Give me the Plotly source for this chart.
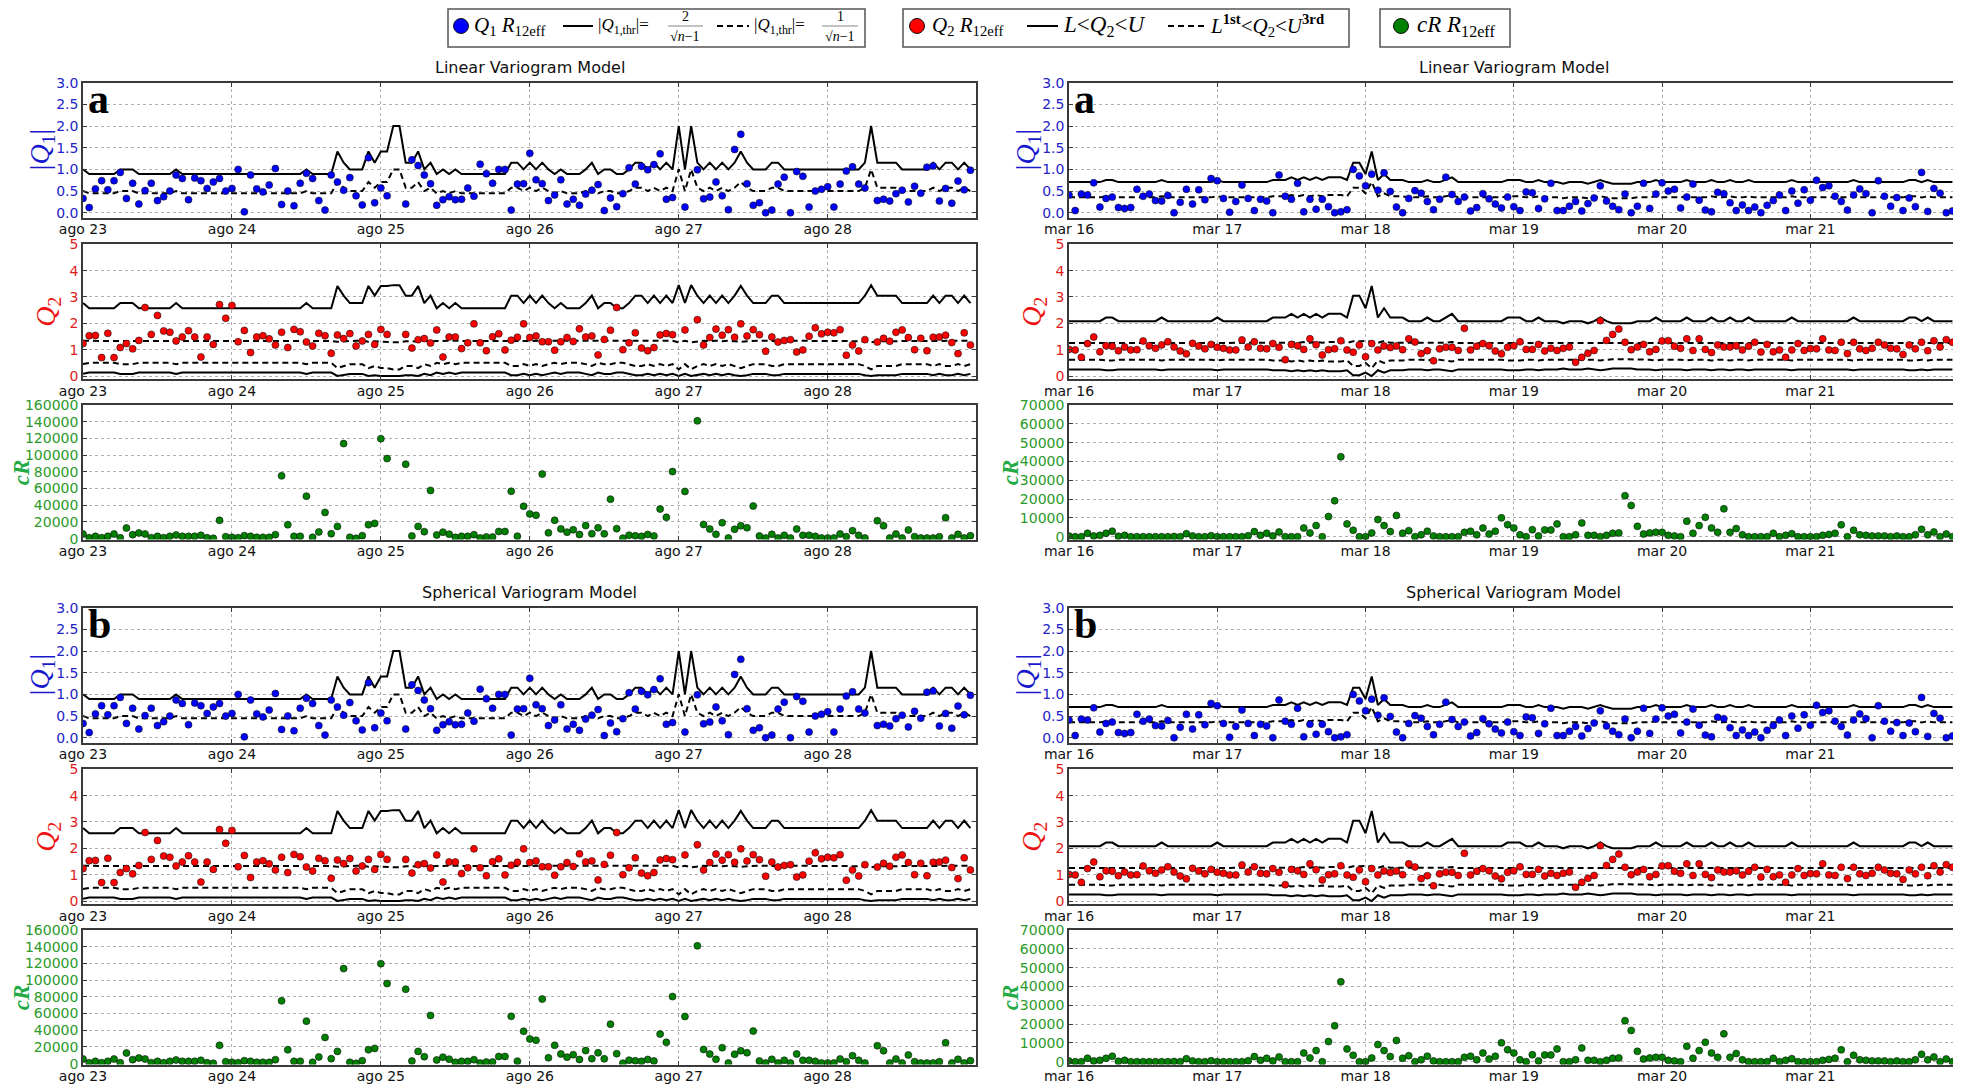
import pandas as pd
import plotly.graph_objects as go

# page body has an 8px default margin: figure is sized to fit the window exactly
MARGIN = 8
W, H = 1961 - MARGIN, 1086 - MARGIN

# ---------------- data ----------------
left_day_labels = ["ago 23", "ago 24", "ago 25", "ago 26", "ago 27", "ago 28"]
right_day_labels = ["mar 16", "mar 17", "mar 18", "mar 19", "mar 20", "mar 21"]
left_start = "2014-08-23"
right_start = "2015-03-16"
panel_titles = ["Linear Variogram Model", "Spherical Variogram Model"]
panel_letters = ["a", "b"]

# hourly |Q1| (R12eff), left period
left_q1 = [
    0.33, 0.12, 0.55, 0.74, 0.53, 0.74, 0.93, 0.33, 0.68, 0.20, 0.51, 0.68, 0.28, 0.37, 0.50, 0.87, 0.79, 0.30, 0.80, 0.74, 0.56, 0.71, 0.79, 0.50,
    0.56, 1.00, 0.02, 0.87, 0.55, 0.48, 0.64, 1.02, 0.19, 0.50, 0.16, 0.68, 0.91, 0.79, 0.28, 0.06, 0.87, 0.71, 0.52, 0.81, 0.39, 0.18, 1.27, 0.23,
    0.57, 0.39, None, None, 0.20, 1.22, 1.09, 0.87, 0.67, 0.17, 0.30, 0.37, 0.30, 0.31, 0.57, 0.38, 1.12, 0.90, 0.68, 1.00, 1.00, 0.06, 0.66, 0.67,
    1.37, 0.76, 0.67, 0.28, 0.41, 0.76, 0.20, 0.31, 0.17, 0.43, 0.52, 0.65, 0.05, 0.34, 0.14, 0.44, 1.04, 0.66, 1.07, 0.99, 1.11, 1.36, 0.31, 0.35,
    None, 0.13, None, 0.99, 0.32, 0.36, 0.71, 0.39, 0.07, 1.46, 1.81, 0.67, 0.17, 0.23, 0.00, 0.06, 0.66, 0.82, 0.00, 0.95, 0.84, 0.13, 0.50, 0.54,
    0.60, 0.13, 0.66, 0.96, 1.06, 0.66, 0.57, None, 0.28, 0.31, 0.27, 0.44, 0.52, 0.25, 0.61, 0.45, 1.05, 1.08, 0.27, 0.56, 0.22, 0.73, 0.53, 0.98,
]
left_q2 = [
    1.23, 1.53, 1.54, 0.70, 1.62, 0.70, 1.08, 1.23, 1.03, 1.35, 2.60, 1.58, 2.30, 1.71, 1.66, 1.33, 1.48, 1.72, 1.48, 0.72, 1.48, 1.20, 2.71, 2.19,
    2.68, 1.30, 1.73, 0.89, 1.48, 1.53, 1.41, 1.18, 1.66, 1.08, 1.77, 1.68, 1.29, 1.14, 1.62, 1.53, 0.86, 1.56, 1.42, 1.61, 1.14, 1.33, 1.58, 1.20,
    1.77, 1.58, None, None, 1.58, 1.06, 1.38, 1.42, 1.25, 1.75, 0.72, 1.48, 1.48, 1.04, 1.26, 1.98, 1.26, 0.96, 1.49, 1.60, 0.99, 1.36, 1.47, 1.98,
    1.46, 1.52, 1.30, 1.30, 0.98, 1.30, 1.46, 1.31, 1.79, 1.48, 1.52, 0.80, 1.39, 1.74, 2.60, 1.00, 1.26, 1.64, 1.06, 0.96, 1.08, 1.56, 1.61, 1.57,
    None, 1.75, None, 2.14, 1.18, 1.46, 1.78, 1.55, 1.76, 1.47, 1.98, 1.52, 1.76, 1.57, 0.94, 1.48, 1.29, 1.35, 1.38, 0.91, 0.99, 1.51, 1.83, 1.60,
    1.66, 1.64, 1.76, 0.79, 1.18, 0.95, 1.38, None, 1.29, 1.43, 1.32, 1.66, 1.75, 1.46, 1.00, 1.43, 0.96, 1.47, 1.48, 1.55, 1.27, 0.85, 1.64, 1.18,
]
left_cr = [
    5600, 1200, 2800, 1200, 2800, 5600, 1200, 12700, 4800, 6800, 5600, 1200, 2800, 1200, 2800, 4400, 2800, 2800, 2800, 4000, 1200, 400, 21900, 2400,
    1600, 1200, 3600, 2800, 1600, 1600, 1600, 4800, 75200, 16700, 2800, 2800, 50900, 1600, 8000, 31400, 6000, 14700, 113800, 1600, 400, 3600, 16700, 18300,
    119700, 95900, None, None, 89100, 3200, 14700, 8400, 57700, 4400, 7800, 5400, 1600, 2800, 2800, 4800, 800, 2000, 2000, 8600, 8600, 56700, 3000, 38800,
    29600, 28000, 77300, 7000, 22000, 11700, 7800, 10700, 5000, 15700, 6000, 13000, 5800, 47300, 12000, 600, 4200, 3400, 2800, 5000, 3200, 35400, 25500, 80300,
    None, 56500, None, 141000, 17000, 11500, 5200, 19100, 800, 11200, 15500, 13100, 39000, 3200, 800, 5200, 800, 4000, 800, 11600, 4000, 4000, 2800, 800,
    800, 800, 5600, 2400, 9600, 4000, 800, None, 21500, 15500, 800, 5600, 800, 10400, 2400, 800, 800, 800, 2400, 25100, 800, 5200, 800, 3600,
]
# number of contributing values per hour (sets the thresholds)
left_n = [
    5, 6, 6, 6, 6, 6, 5, 5, 5, 6, 6, 6, 6, 6, 6, 5, 6, 6, 6, 6, 6, 6, 6, 6,
    6, 6, 6, 6, 6, 6, 6, 6, 6, 6, 6, 6, 5, 6, 6, 6, 6, 3, 4, 5, 5, 5, 3, 4,
    3, 3, 2, 2, 4, 4, 3, 5, 4, 6, 5, 6, 5, 6, 6, 6, 6, 6, 6, 6, 6, 4, 4, 5,
    4, 5, 4, 5, 6, 5, 6, 6, 6, 5, 4, 6, 5, 5, 6, 6, 5, 4, 4, 5, 4, 5, 4, 5,
    2, 5, 2, 4, 5, 4, 5, 4, 5, 4, 3, 4, 5, 5, 5, 4, 4, 5, 5, 5, 5, 5, 5, 5,
    5, 5, 5, 5, 5, 5, 4, 2, 4, 4, 4, 4, 5, 5, 5, 5, 5, 4, 5, 4, 4, 5, 4, 5,
]

right_q1 = [
    0.41, 0.05, 0.43, 0.41, 0.69, 0.13, 0.33, 0.36, 0.12, 0.10, 0.12, 0.54, 0.38, 0.43, 0.28, 0.27, 0.40, 0.00, 0.24, 0.54, 0.20, 0.53, 0.30, 0.79,
    0.74, 0.33, 0.01, 0.26, 0.64, 0.33, 0.05, 0.31, 0.27, 0.00, 0.87, 0.38, 0.31, 0.68, 0.02, 0.31, 0.08, 0.31, 0.14, 0.00, 0.02, 0.07, 1.00, 0.85,
    0.62, 0.89, 0.52, 0.92, 0.49, 0.13, 0.00, 0.33, 0.51, 0.45, 0.26, 0.07, 0.31, 0.82, 0.42, 0.26, 0.36, 0.04, 0.12, 0.44, 0.32, 0.20, 0.11, 0.36,
    0.14, 0.05, 0.48, 0.46, 0.10, 0.32, 0.68, 0.05, 0.05, 0.15, 0.26, 0.04, 0.21, 0.34, 0.62, 0.27, 0.15, 0.07, 0.43, 0.00, 0.15, 0.68, 0.10, 0.43,
    0.69, 0.50, 0.54, 0.11, 0.36, 0.66, 0.29, 0.06, 0.02, 0.47, 0.44, 0.23, 0.05, 0.18, 0.05, 0.13, 0.00, 0.17, 0.28, 0.41, 0.05, 0.50, 0.22, 0.53,
    0.29, 0.75, 0.58, 0.62, 0.38, 0.26, 0.06, 0.41, 0.55, 0.44, 0.00, 0.74, 0.38, 0.15, 0.35, 0.05, 0.34, 0.14, 0.93, 0.03, 0.56, 0.45, 0.00, 0.04,
]
right_q2 = [
    1.01, 0.99, 0.71, 1.23, 1.48, 0.92, 1.15, 1.13, 0.96, 1.10, 0.99, 1.00, 1.33, 1.15, 1.05, 1.18, 1.30, 1.10, 0.95, 0.84, 1.24, 1.14, 1.03, 1.20,
    1.09, 1.05, 0.99, 0.99, 1.37, 1.10, 1.30, 1.05, 1.03, 1.23, 1.09, 0.62, 1.20, 1.15, 1.01, 1.41, 1.19, 0.80, 1.00, 1.03, 1.34, 0.99, 0.90, 1.18,
    0.73, 1.23, 0.99, 1.14, 1.08, 1.14, 1.00, 1.41, 1.29, 0.85, 0.96, 0.58, 1.03, 1.09, 1.09, 0.97, 1.81, 0.99, 1.13, 1.23, 1.15, 0.95, 0.84, 1.09,
    1.15, 1.30, 1.01, 1.01, 1.20, 0.95, 1.05, 0.97, 1.05, 1.10, 0.52, 0.71, 0.86, 0.97, 2.10, 1.35, 1.58, 1.78, 1.28, 1.00, 1.10, 1.20, 0.92, 1.01,
    1.33, 1.34, 1.13, 1.05, 1.41, 0.97, 1.41, 1.01, 0.89, 1.18, 1.10, 1.10, 1.15, 0.99, 1.13, 1.28, 0.91, 1.20, 0.92, 0.99, 0.71, 0.99, 1.23, 0.97,
    1.04, 1.03, 1.41, 0.99, 0.97, 1.28, 0.85, 1.28, 1.03, 0.97, 1.05, 1.28, 1.18, 1.05, 1.03, 0.82, 1.18, 1.03, 1.28, 0.96, 1.34, 1.10, 1.38, 1.28,
]
right_cr = [
    300, 0, 0, 1800, 400, 700, 1800, 2900, 200, 700, 0, 0, 0, 0, 0, 0, 0, 100, 0, 1600, 400, 0, 0, 500,
    0, 0, 0, 0, 0, 500, 2700, 700, 1800, 400, 2500, 0, 0, 0, 4600, 2000, 5900, 0, 10700, 19100, 42500, 6800, 3400, 0,
    0, 2000, 9100, 5900, 2700, 11300, 1800, 3200, 0, 1000, 2900, 400, 0, 0, 0, 0, 2300, 2900, 1000, 4600, 1400, 2900, 10000, 6400,
    4600, 1000, 0, 3700, 400, 3600, 3600, 6800, 0, 0, 1000, 7300, 700, 700, 0, 700, 1800, 2000, 21800, 16600, 5500, 1400, 2000, 2300,
    2300, 700, 400, 0, 8200, 1800, 5900, 10300, 4600, 2300, 14800, 2300, 4300, 1000, 0, 0, 0, 0, 1800, 0, 700, 1600, 0, 0,
    0, 0, 700, 1200, 1800, 6300, 0, 3400, 1000, 700, 400, 400, 400, 0, 400, 0, 0, 1000, 3900, 1000, 2500, 0, 1400, 0,
]
right_n = [
    9, 9, 9, 9, 9, 9, 8, 8, 9, 9, 9, 9, 9, 9, 9, 8, 9, 9, 9, 9, 9, 9, 9, 9,
    8, 9, 9, 9, 9, 9, 9, 9, 9, 8, 8, 8, 7, 8, 7, 8, 7, 8, 7, 7, 7, 8, 4, 4,
    6, 3, 8, 6, 8, 8, 8, 9, 9, 9, 8, 9, 9, 8, 7, 9, 9, 9, 9, 9, 9, 9, 9, 8,
    8, 8, 9, 9, 8, 9, 9, 9, 10, 9, 9, 9, 10, 9, 8, 9, 10, 10, 10, 10, 9, 9, 9, 8,
    9, 9, 9, 9, 8, 9, 9, 9, 8, 9, 9, 8, 9, 9, 8, 9, 9, 9, 9, 9, 9, 8, 9, 9,
    9, 9, 9, 9, 9, 9, 9, 8, 9, 9, 9, 9, 9, 9, 9, 9, 8, 8, 9, 8, 9, 9, 9, 9,
]

# threshold values per n
n_levels = [2, 3, 4, 5, 6, 7, 8, 9, 10]
q1_thr_solid = [2.0, 1.414, 1.155, 1.0, 0.894, 0.816, 0.756, 0.707, 0.667]
q1_thr_dashed = [1.0, 0.707, 0.577, 0.5, 0.447, 0.408, 0.378, 0.354, 0.333]
q2_upper = [3.45, 3.42, 3.05, 2.77, 2.57, 2.36, 2.22, 2.08, 2.0]
q2_upper_3rd = [1.28, 1.30, 1.32, 1.34, 1.33, 1.29, 1.26, 1.25, 1.24]
q2_lower_1st = [0.25, 0.30, 0.38, 0.45, 0.50, 0.55, 0.59, 0.62, 0.64]
q2_lower = [0.0, 0.0, 0.03, 0.08, 0.13, 0.18, 0.22, 0.25, 0.28]

# ---------------- styling / layout ----------------
BLUE, RED, GREEN = "#0000ff", "#ff0000", "#008000"
TICK_BLUE, TICK_RED, TICK_GREEN = "#2323c8", "#e01b1b", "#2a9a2a"
TITLE_BLUE, TITLE_RED, TITLE_GREEN = "#1818cc", "#ee1111", "#22aa44"
AXC = "#3a3a3a"
GRIDC = "#b0b0b0"

# screen-pixel positions of the panels
COLX = {"left": (83, 976), "right": (1069, 1958)}
ROWY = {"q1": (82.7, 217.7), "q2": (244.3, 379.0), "cr": (405.0, 539.5)}
B_OFFSET = 525


def lookup(table, ns):
    d = dict(zip(n_levels, table))
    return [d[n] for n in ns]


def px(x):
    return (x - MARGIN) / W


def py(y):
    return 1 - (y - MARGIN) / H


fig = go.Figure()
layout = {}
annotations = []
shapes = []

columns = {
    "left": dict(start=left_start, labels=left_day_labels, q1=left_q1, q2=left_q2, cr=left_cr, n=left_n,
                 cr_range=[-1000, 160000], cr_dtick=20000),
    "right": dict(start=right_start, labels=right_day_labels, q1=right_q1, q2=right_q2, cr=right_cr, n=right_n,
                  cr_range=[-1500, 70000], cr_dtick=10000),
}

mk_line = dict(color="#111111", width=0.6)
k = 0
for ci, (cname, cd) in enumerate(columns.items()):
    x0p, x1p = COLX[cname]
    times = pd.date_range(cd["start"], periods=144, freq="h")
    tickvals = pd.date_range(cd["start"], periods=6, freq="D")
    xr = [str(times[0]), str(times[0] + pd.Timedelta(hours=143.9))]
    thr = lookup(q1_thr_solid, cd["n"])
    thr_d = lookup(q1_thr_dashed, cd["n"])
    U = lookup(q2_upper, cd["n"])
    U3 = lookup(q2_upper_3rd, cd["n"])
    L1 = lookup(q2_lower_1st, cd["n"])
    L = lookup(q2_lower, cd["n"])
    for vi in range(2):
        off = vi * B_OFFSET
        annotations.append(dict(text=panel_titles[vi], x=px((x0p + x1p) / 2), y=py(67 + off), xref="paper",
                                yref="paper", showarrow=False, xanchor="center", yanchor="middle",
                                font=dict(family="DejaVu Sans", size=16, color="#111")))
        annotations.append(dict(text="<b>" + panel_letters[vi] + "</b>", x=px(x0p + 3), y=py(99 + off),
                                xref="paper", yref="paper", showarrow=False, xanchor="left", yanchor="middle",
                                font=dict(family="Liberation Serif", size=42, color="black")))
        for row in ["q1", "q2", "cr"]:
            k += 1
            xa = "x" if k == 1 else f"x{k}"
            ya = "y" if k == 1 else f"y{k}"
            t, b = ROWY[row]
            t += off
            b += off
            xaxis = dict(domain=[px(x0p), px(x1p)], anchor=ya, type="date", range=xr, automargin=False,
                         tickvals=list(tickvals), ticktext=cd["labels"], showgrid=True, gridcolor=GRIDC,
                         griddash="dot", gridwidth=1, showline=True, linecolor=AXC, linewidth=1.6,
                         mirror="ticks", ticks="inside", ticklen=4, tickcolor=AXC, zeroline=False,
                         ticklabelstandoff=-2,
                         tickfont=dict(family="DejaVu Sans", size=14, color="#111"))
            yaxis = dict(domain=[py(b), py(t)], anchor=xa, showgrid=True, gridcolor=GRIDC, griddash="dot",
                         gridwidth=1, showline=True, linecolor=AXC, linewidth=1.6, mirror="ticks",
                         automargin=False, ticks="inside", ticklen=4, tickcolor=AXC, zeroline=False)
            if row == "q1":
                yaxis.update(range=[-0.115, 3.0], tickvals=[0, 0.5, 1, 1.5, 2, 2.5, 3],
                             ticktext=["0.0", "0.5", "1.0", "1.5", "2.0", "2.5", "3.0"],
                             tickfont=dict(family="DejaVu Sans", size=14, color=TICK_BLUE))
                fig.add_trace(go.Scatter(x=times, y=thr, mode="lines", line=dict(color="black", width=2),
                                         xaxis=xa, yaxis=ya, showlegend=False, hoverinfo="skip"))
                fig.add_trace(go.Scatter(x=times, y=thr_d, mode="lines",
                                         line=dict(color="black", width=2, dash="6px,4px"),
                                         xaxis=xa, yaxis=ya, showlegend=False, hoverinfo="skip"))
                fig.add_trace(go.Scatter(x=times, y=cd["q1"], mode="markers",
                                         marker=dict(color=BLUE, size=7, line=mk_line),
                                         xaxis=xa, yaxis=ya, showlegend=False))
                annotations.append(dict(text="|<i>Q</i><sub>1</sub>|", x=px(x0p - 42), y=py((t + b) / 2),
                                        xref="paper", yref="paper", showarrow=False, textangle=-90,
                                        xanchor="center", yanchor="middle",
                                        font=dict(family="Liberation Serif", size=28, color=TITLE_BLUE)))
            elif row == "q2":
                yaxis.update(range=[-0.114, 5.0], tickvals=[0, 1, 2, 3, 4, 5],
                             tickfont=dict(family="DejaVu Sans", size=14, color=TICK_RED))
                for yy, dash in [(U, None), (L, None), (U3, "6px,4px"), (L1, "6px,4px")]:
                    fig.add_trace(go.Scatter(x=times, y=yy, mode="lines",
                                             line=dict(color="black", width=2, dash=dash),
                                             xaxis=xa, yaxis=ya, showlegend=False, hoverinfo="skip"))
                fig.add_trace(go.Scatter(x=times, y=cd["q2"], mode="markers",
                                         marker=dict(color=RED, size=7, line=mk_line),
                                         xaxis=xa, yaxis=ya, showlegend=False))
                annotations.append(dict(text="<i>Q</i><sub>2</sub>", x=px(x0p - 35), y=py((t + b) / 2),
                                        xref="paper", yref="paper", showarrow=False, textangle=-90,
                                        xanchor="center", yanchor="middle",
                                        font=dict(family="Liberation Serif", size=28, color=TITLE_RED)))
            else:
                yaxis.update(range=cd["cr_range"], tick0=0, dtick=cd["cr_dtick"], tickformat="d",
                             tickfont=dict(family="DejaVu Sans", size=14, color=TICK_GREEN))
                fig.add_trace(go.Scatter(x=times, y=cd["cr"], mode="markers",
                                         marker=dict(color=GREEN, size=7, line=mk_line),
                                         xaxis=xa, yaxis=ya, showlegend=False))
                cx = 22 if cname == "left" else x0p - 58
                annotations.append(dict(text="<b><i>cR</i></b>", x=px(cx), y=py((t + b) / 2),
                                        xref="paper", yref="paper", showarrow=False, textangle=-90,
                                        xanchor="center", yanchor="middle", height=22, borderpad=0,
                                        font=dict(family="Liberation Serif", size=23, color=TITLE_GREEN)))
            layout["xaxis" if k == 1 else f"xaxis{k}"] = xaxis
            layout["yaxis" if k == 1 else f"yaxis{k}"] = yaxis

# ---------------- legend boxes (top) ----------------
LY = 26


def rect(x0, x1, y0, y1):
    shapes.append(dict(type="rect", xref="paper", yref="paper", x0=px(x0), x1=px(x1), y0=py(y1), y1=py(y0),
                       line=dict(color="#555", width=1.5), fillcolor="white", layer="above"))


def circ(cx, cy, r, color):
    shapes.append(dict(type="circle", xref="paper", yref="paper", x0=px(cx - r), x1=px(cx + r),
                       y0=py(cy + r), y1=py(cy - r), line=dict(color="#111", width=1), fillcolor=color,
                       layer="above"))


def hline(x0, x1, y, dash=None, color="black", width=2):
    shapes.append(dict(type="line", xref="paper", yref="paper", x0=px(x0), x1=px(x1), y0=py(y), y1=py(y),
                       line=dict(color=color, width=width, dash=dash), layer="above"))


def txt(text, x, y, size=18, xanchor="left"):
    annotations.append(dict(text=text, x=px(x), y=py(y), xref="paper", yref="paper", showarrow=False,
                            xanchor=xanchor, yanchor="middle",
                            font=dict(family="Liberation Serif", size=size, color="black")))


rect(448, 865, 9, 47)
circ(461, LY, 7.5, BLUE)
txt("<i>Q</i><sub>1</sub> <i>R</i><sub>12eff</sub>", 472, LY, 21)
hline(563, 593, LY)
txt("|<i>Q</i><sub>1,thr</sub>|=", 596, LY, 17)
txt("2", 685, 16, 14, "center")
hline(668, 703, 26, color="#888", width=1.2)
txt("√<i>n</i>−1", 685, 37, 14, "center")
hline(717, 749, LY, dash="6px,4px")
txt("|<i>Q</i><sub>1,thr</sub>|=", 752, LY, 17)
txt("1", 840, 16, 14, "center")
hline(822, 858, 26, color="#888", width=1.2)
txt("√<i>n</i>−1", 840, 37, 14, "center")

rect(903, 1349, 9, 47)
circ(917, LY, 7.5, RED)
txt("<i>Q</i><sub>2</sub> <i>R</i><sub>12eff</sub>", 930, LY, 21)
hline(1027, 1058, LY)
txt("<i>L</i>&lt;<i>Q</i><sub>2</sub>&lt;<i>U</i>", 1061, LY, 23)
hline(1168, 1205, LY, dash="6px,4px")
txt("<i>L</i><sup><b>1st</b></sup>&lt;<i>Q</i><sub>2</sub>&lt;<i>U</i><sup><b>3rd</b></sup>", 1208, LY, 21)

rect(1380, 1510, 9, 47)
circ(1401, LY, 7.5, GREEN)
txt("<i>cR</i> <i>R</i><sub>12eff</sub>", 1415, LY, 23)

fig.update_layout(width=W, height=H, autosize=False, margin=dict(l=0, r=0, t=0, b=0, autoexpand=False),
                  paper_bgcolor="white", plot_bgcolor="white", showlegend=False,
                  annotations=annotations, shapes=shapes, **layout)

fig.write_html("out.html")
